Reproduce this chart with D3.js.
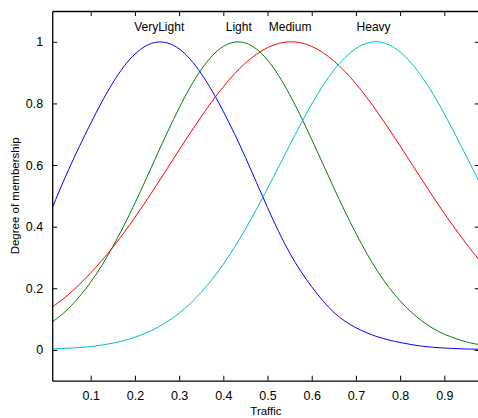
<!DOCTYPE html>
<html><head><meta charset="utf-8">
<script src="https://cdn.jsdelivr.net/npm/d3@7"></script>
<style>
html,body{margin:0;padding:0;background:#fff;}
svg{display:block;}
text{font-family:"Liberation Sans",Arial,Helvetica,sans-serif;fill:#000;}
</style></head><body>
<svg id="chart" width="478" height="418"></svg>
<script>
const xs = [0.0125,0.05,0.1,0.15,0.2,0.25,0.3,0.35,0.4,0.45,0.5,0.55,0.6,0.65,0.7,0.75,0.8,0.85,0.9,0.95,0.98];
const veryLight = [0.459,0.585,0.735,0.867,0.960,0.999,0.977,0.897,0.774,0.625,0.462,0.315,0.205,0.122,0.072,0.042,0.024,0.012,0.006,0.003,0.002];
const light     = [0.090,0.135,0.220,0.335,0.476,0.633,0.785,0.910,0.985,0.996,0.941,0.829,0.683,0.526,0.378,0.253,0.159,0.093,0.051,0.026,0.017];
const medium    = [0.139,0.180,0.250,0.333,0.430,0.537,0.649,0.757,0.854,0.931,0.981,1.000,0.985,0.938,0.864,0.769,0.662,0.551,0.443,0.344,0.291];
const heavy     = [0.003,0.0056,0.011,0.022,0.041,0.072,0.119,0.187,0.278,0.392,0.524,0.664,0.798,0.908,0.978,1.000,0.967,0.885,0.766,0.628,0.542];
const seriesNames = ["VeryLight","Light","Medium","Heavy"];
const seriesColors = ["#0000ff","#008000","#ff0000","#00bfbf"];
const labelX = [0.255,0.435,0.551,0.74];
const xTicks = [0.1,0.2,0.3,0.4,0.5,0.6,0.7,0.8,0.9];
const yTicks = [0,0.2,0.4,0.6,0.8,1];

const svg = d3.select("#chart");
const L = 52.2, R = 479.7, T = 11, B = 380.7;
const x = d3.scaleLinear().domain([0.0129, 0.98]).range([L, R]);
const y = d3.scaleLinear().domain([-0.1, 1.1]).range([B, T]);

const all = [veryLight, light, medium, heavy];
const line = d3.line().x((d,i)=>x(xs[i])).y(d=>y(d)).curve(d3.curveNatural);
const g = svg.append("g");
g.append("defs").append("clipPath").attr("id","clip").append("rect")
  .attr("x",L).attr("y",T).attr("width",R-L).attr("height",B-T);
all.forEach((s,k)=>{
  g.append("path").attr("d", line(s)).attr("fill","none")
    .attr("stroke", seriesColors[k]).attr("stroke-width",1).attr("clip-path","url(#clip)");
});

// axes
const fmt = d => d===0 ? "0" : d===1 ? "1" : d3.format(".1f")(d);
const ax = svg.append("g").attr("transform",`translate(0,${B})`)
  .call(d3.axisBottom(x).tickValues(xTicks).tickSizeInner(-5).tickSizeOuter(0).tickPadding(10).tickFormat(fmt));
const axTop = svg.append("g").attr("transform",`translate(0,${T})`)
  .call(d3.axisTop(x).tickValues(xTicks).tickSizeInner(-5).tickSizeOuter(0).tickFormat(""));
const ay = svg.append("g").attr("transform",`translate(${L},0)`)
  .call(d3.axisLeft(y).tickValues(yTicks).tickSizeInner(-5).tickSizeOuter(0).tickPadding(9).tickFormat(fmt));
const ayR = svg.append("g").attr("transform",`translate(${R},0)`)
  .call(d3.axisRight(y).tickValues(yTicks).tickSizeInner(-5).tickSizeOuter(0).tickFormat(""));
[ax,axTop,ay,ayR].forEach(a=>{
  a.selectAll("path.domain").attr("stroke","#000").attr("stroke-width",1.3);
  a.selectAll(".tick line").attr("stroke","#000").attr("stroke-width",1);
  a.selectAll("text").attr("font-size","12.5px").attr("font-family","'Liberation Sans',Arial,sans-serif").attr("fill","#000");
});

// curve labels
seriesNames.forEach((n,k)=>{
  svg.append("text").attr("x", x(labelX[k])).attr("y", y(1.05)).attr("dy","0.35em")
    .attr("text-anchor","middle").attr("font-size","12px").text(n);
});

svg.append("text").attr("x",(L+R)/2).attr("y",415).attr("text-anchor","middle")
  .attr("font-size","11.5px").text("Traffic");
svg.append("text").attr("transform",`translate(19,${(T+B)/2}) rotate(-90)`)
  .attr("text-anchor","middle").attr("font-size","11.5px").text("Degree of membership");
</script>
</body></html>
